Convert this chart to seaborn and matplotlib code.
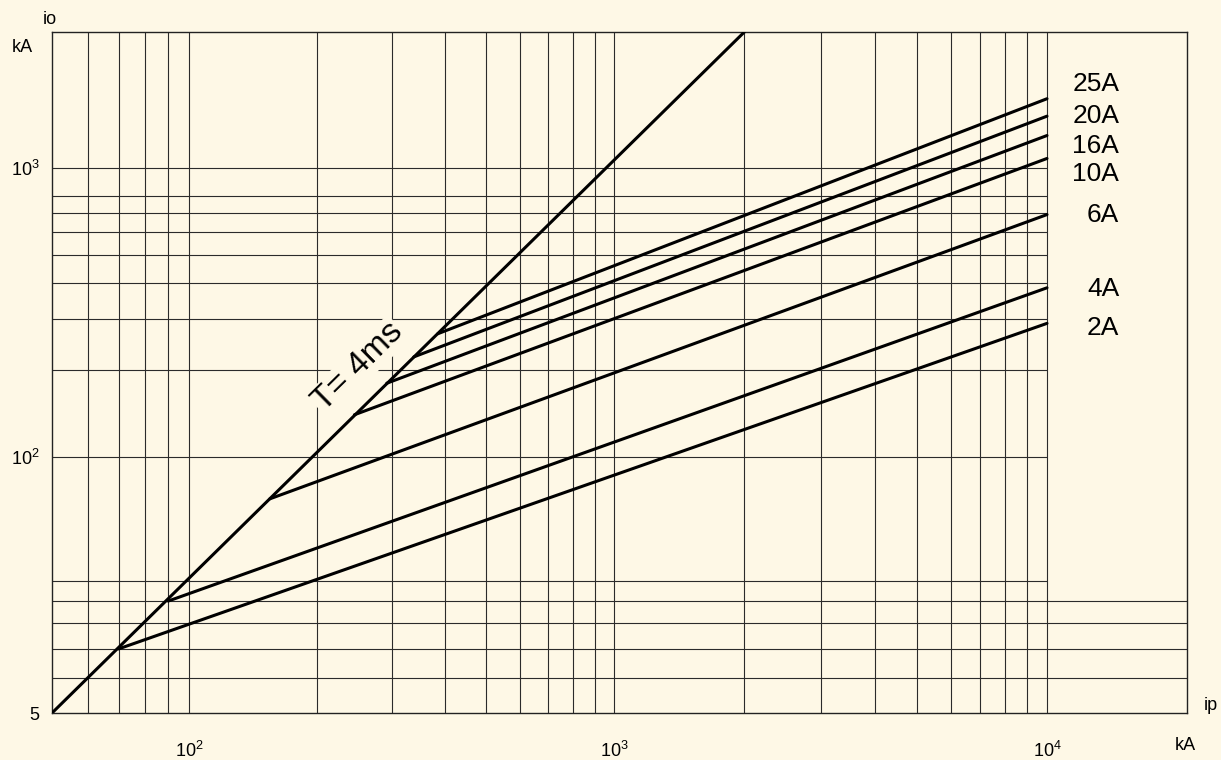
import numpy as np
import pandas as pd
import matplotlib
matplotlib.use("Agg")
import matplotlib.pyplot as plt
import seaborn as sns

BG = "#FEF8E6"

# fuse ratings: where each line leaves the T = 4 ms line and where it ends (ip = 10^4 kA)
ratings = ["2A", "4A", "6A", "10A", "16A", "20A", "25A"]
kink_ip = [70, 90, 155, 245, 292, 338, 385]
kink_io = [7, 9, 46, 140, 180, 222, 267]
end_ip = 10000
end_io = [290, 385, 690, 1080, 1300, 1520, 1750]
label_io = [280, 380, 690, 950, 1190, 1520, 1970]

# T = 4ms boundary line
t_ip = [50, 2000]
t_io = [5, 3000]

# grid
x_grid = [60, 70, 80, 90] + [m * 10 ** e for e in (2, 3) for m in range(1, 10)] + [10000]
y_grid_full = [6, 7, 8, 9]
y_grid_short = [10, 100, 200, 300, 400, 500, 600, 700, 800, 1000]

# the printed axes are not evenly spaced per decade -> piecewise log scale
X_ANCHOR = [50, 100, 1000, 10000, 20000]
X_SPAN = [0, 137, 562, 995, 1135]
Y_ANCHOR = [5, 10, 100, 1000, 3000]
Y_SPAN = [0, 132, 256, 545, 681]


def piecewise_log(values, spans):
    lv = np.log10(values)
    sp = np.asarray(spans, float)
    k0 = (sp[1] - sp[0]) / (lv[1] - lv[0])
    k1 = (sp[-1] - sp[-2]) / (lv[-1] - lv[-2])

    def forward(v):
        v = np.log10(np.clip(np.asarray(v, float), 1e-12, None))
        out = np.interp(v, lv, sp)
        out = np.where(v < lv[0], sp[0] + (v - lv[0]) * k0, out)
        out = np.where(v > lv[-1], sp[-1] + (v - lv[-1]) * k1, out)
        return out

    def inverse(s):
        s = np.asarray(s, float)
        out = np.interp(s, sp, lv)
        out = np.where(s < sp[0], lv[0] + (s - sp[0]) / k0, out)
        out = np.where(s > sp[-1], lv[-1] + (s - sp[-1]) / k1, out)
        return 10 ** out

    return forward, inverse


rows = [("T", x, y) for x, y in zip(t_ip, t_io)]
for r, x0, y0, y1 in zip(ratings, kink_ip, kink_io, end_io):
    rows += [(r, x0, y0), (r, end_ip, y1)]
df = pd.DataFrame(rows, columns=["curve", "ip", "io"])

sns.set_style("white")
plt.rcParams["font.family"] = ["Liberation Sans", "DejaVu Sans"]
plt.rcParams["mathtext.fontset"] = "custom"
plt.rcParams["mathtext.rm"] = "Liberation Sans"
plt.rcParams["text.color"] = "black"
plt.rcParams["xtick.color"] = "black"
plt.rcParams["ytick.color"] = "black"

W, H = 1221, 760
fig = plt.figure(figsize=(W / 100, H / 100), dpi=100, facecolor=BG)
ax = fig.add_axes([52 / W, (H - 713) / H, (1187 - 52) / W, (713 - 32) / H])
ax.set_facecolor(BG)

ax.set_xscale("function", functions=piecewise_log(X_ANCHOR, X_SPAN))
ax.set_yscale("function", functions=piecewise_log(Y_ANCHOR, Y_SPAN))
ax.set_xlim(50, 20000)
ax.set_ylim(5, 3000)

grid_kw = dict(color="#2b2b2b", linewidth=0.8, zorder=1)
ax.vlines(x_grid, 5, 3000, **grid_kw)
ax.hlines(y_grid_full, 50, 20000, **grid_kw)
ax.hlines(y_grid_short, 50, 10000, **grid_kw)

sns.lineplot(data=df, x="ip", y="io", units="curve", estimator=None, sort=False,
             color="black", linewidth=2.2, legend=False, ax=ax, zorder=3)

for r, y in zip(ratings, label_io):
    ax.text(14300, y, r, ha="right", va="center", fontsize=19, color="black")

ax.text(250, 205, "T= 4ms", rotation=44.5, rotation_mode="anchor", ha="center",
        va="center", fontsize=24, zorder=2, color="black",
        bbox=dict(facecolor=BG, edgecolor="none", pad=1))

ax.set_xticks([100, 1000, 10000],
              labels=[r"$\mathregular{10^{2}}$", r"$\mathregular{10^{3}}$", r"$\mathregular{10^{4}}$"])
ax.set_yticks([5, 100, 1000],
              labels=["5", r"$\mathregular{10^{2}}$", r"$\mathregular{10^{3}}$"])
ax.minorticks_off()
ax.tick_params(axis="x", length=0, pad=20, labelsize=13, labelcolor="black")
ax.tick_params(axis="y", length=0, pad=9, labelsize=13, labelcolor="black")
ax.set_xlabel("")
ax.set_ylabel("")
for s in ax.spines.values():
    s.set_color("#222222")
    s.set_linewidth(1.0)
    s.set_visible(True)

fig.text(50 / W, 1 - 19 / H, "io", ha="center", va="center", fontsize=13)
fig.text(22 / W, 1 - 48 / H, "kA", ha="center", va="center", fontsize=13)
fig.text(1211 / W, 1 - 705 / H, "ip", ha="center", va="center", fontsize=13)
fig.text(1185 / W, 1 - 745 / H, "kA", ha="center", va="center", fontsize=13)

fig.savefig("out.png", dpi=100, facecolor=BG)
